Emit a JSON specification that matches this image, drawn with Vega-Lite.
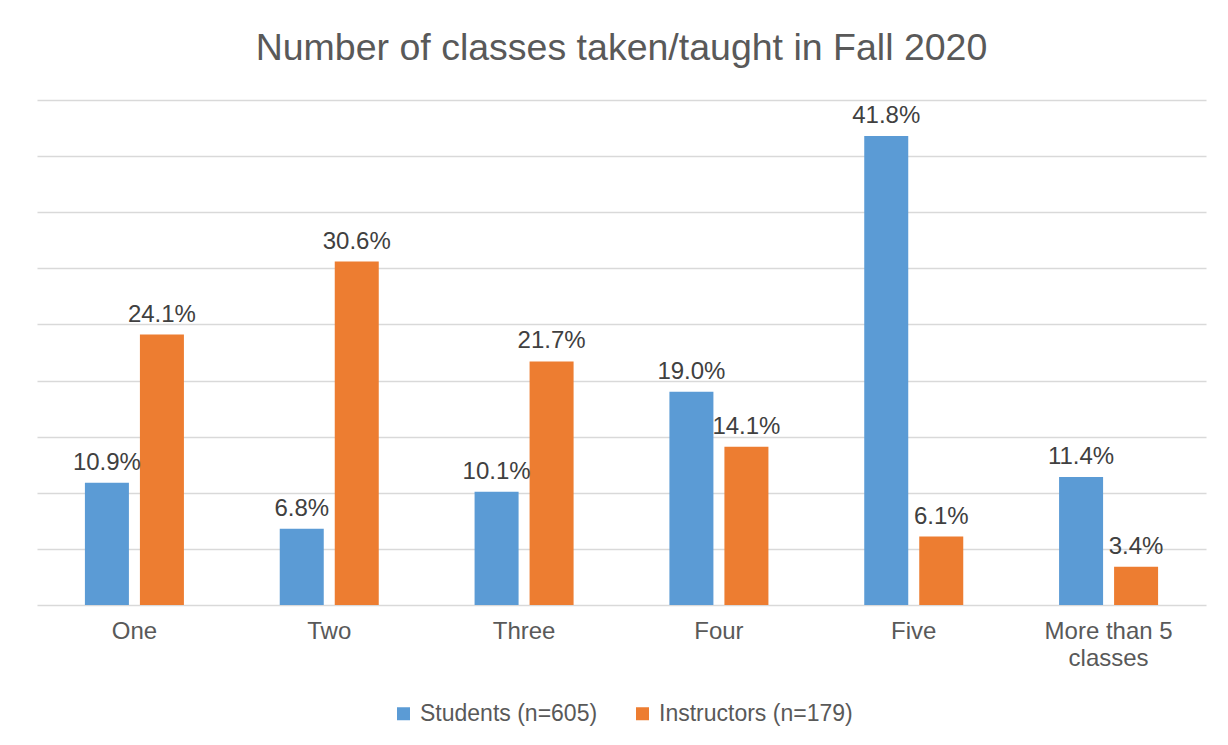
{
  "$schema": "https://vega.github.io/schema/vega-lite/v6.json",
  "width": 1169,
  "height": 505,
  "autosize": {"type": "none"},
  "padding": {"left": 37, "top": 100, "right": 22, "bottom": 140},
  "background": "white",
  "config": {
    "font": "Liberation Sans",
    "view": {"stroke": null}
  },
  "title": {
    "text": "Number of classes taken/taught in Fall 2020",
    "fontSize": 37.5,
    "font": "Liberation Sans",
    "fontWeight": "normal",
    "color": "#595959",
    "anchor": "middle",
    "offset": 33
  },
  "data": {
    "values": [
      {"category": "One", "series": "Students (n=605)", "value": 0.109},
      {"category": "One", "series": "Instructors (n=179)", "value": 0.241},
      {"category": "Two", "series": "Students (n=605)", "value": 0.068},
      {"category": "Two", "series": "Instructors (n=179)", "value": 0.306},
      {"category": "Three", "series": "Students (n=605)", "value": 0.101},
      {"category": "Three", "series": "Instructors (n=179)", "value": 0.217},
      {"category": "Four", "series": "Students (n=605)", "value": 0.190},
      {"category": "Four", "series": "Instructors (n=179)", "value": 0.141},
      {"category": "Five", "series": "Students (n=605)", "value": 0.418},
      {"category": "Five", "series": "Instructors (n=179)", "value": 0.061},
      {"category": "More than 5 classes", "series": "Students (n=605)", "value": 0.114},
      {"category": "More than 5 classes", "series": "Instructors (n=179)", "value": 0.034}
    ]
  },
  "encoding": {
    "x": {
      "field": "category",
      "type": "nominal",
      "sort": ["One", "Two", "Three", "Four", "Five", "More than 5 classes"],
      "scale": {"paddingInner": 0, "paddingOuter": 0},
      "axis": {
        "title": null,
        "domain": false,
        "ticks": false,
        "labelAngle": 0,
        "labelFontSize": 24,
        "labelColor": "#595959",
        "labelPadding": 14,
        "labelLineHeight": 27,
        "labelExpr": "datum.label == 'More than 5 classes' ? ['More than 5', 'classes'] : datum.label"
      }
    },
    "xOffset": {
      "field": "series",
      "type": "nominal",
      "sort": ["Students (n=605)", "Instructors (n=179)"],
      "scale": {"paddingInner": 0.2, "paddingOuter": 0.871}
    },
    "y": {
      "field": "value",
      "type": "quantitative",
      "scale": {"domain": [0, 0.45], "nice": false},
      "axis": {
        "title": null,
        "domain": false,
        "ticks": false,
        "labels": false,
        "values": [0, 0.05, 0.1, 0.15, 0.2, 0.25, 0.3, 0.35, 0.4, 0.45],
        "gridColor": "#d9d9d9",
        "gridWidth": 1.3
      }
    }
  },
  "layer": [
    {
      "mark": {"type": "bar"},
      "encoding": {
        "color": {
          "field": "series",
          "type": "nominal",
          "sort": ["Students (n=605)", "Instructors (n=179)"],
          "scale": {
            "domain": ["Students (n=605)", "Instructors (n=179)"],
            "range": ["#5b9bd5", "#ed7d31"]
          },
          "legend": {
            "title": null,
            "orient": "none",
            "legendX": 355,
            "legendY": 602,
            "direction": "horizontal",
            "symbolType": "square",
            "symbolSize": 169,
            "symbolStrokeWidth": 0,
            "labelFontSize": 23,
            "labelLimit": 400,
            "labelColor": "#595959",
            "columnPadding": 33,
            "labelOffset": 5
          }
        }
      }
    },
    {
      "mark": {
        "type": "text",
        "baseline": "alphabetic",
        "dy": -13,
        "fontSize": 24,
        "color": "#404040"
      },
      "encoding": {
        "text": {"field": "value", "type": "quantitative", "format": ".1%"}
      }
    }
  ]
}
